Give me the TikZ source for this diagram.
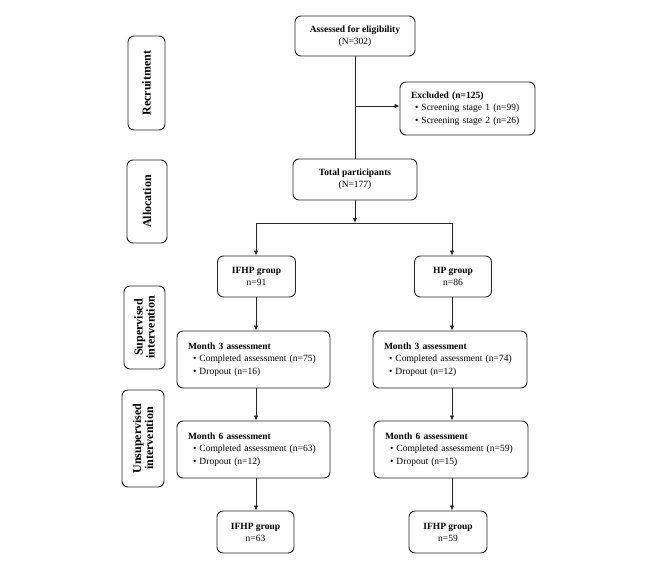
\documentclass[tikz,border=0pt]{standalone}
\usepackage{fontspec}
\setmainfont{Liberation Serif}
\usetikzlibrary{arrows.meta}
\begin{document}
\begin{tikzpicture}[x=1pt,y=1pt,
  box/.style={draw=black!85, line width=0.9pt, rounded corners=6pt, inner sep=0pt, align=center, font=\fontsize{9.5}{12}\selectfont},
  lbox/.style={draw=black!85, line width=0.9pt, rounded corners=6pt, inner xsep=11pt, inner ysep=0pt, align=left, font=\fontsize{9.5}{12.5}\selectfont},
  side/.style={draw=black!85, line width=0.9pt, rounded corners=6pt, inner sep=0pt, rotate=90, align=center, font=\fontsize{12}{12}\selectfont\bfseries},
  arr/.style={line width=0.8pt, draw=black!85, -{Latex[length=5pt,width=4.5pt]}},
  ln/.style={line width=0.8pt, draw=black!85}
]
\useasboundingbox (0,0) rectangle (666,-578);
% side labels
\node[side, minimum width=94, minimum height=37] (rec) at (146.5,-83) {Recruitment};
\node[side, minimum width=83, minimum height=40] (alloc) at (147,-201.5) {Allocation};
\node[side, minimum width=83, minimum height=41] (sup) at (144.5,-327.5) {Supervised\\intervention};
\node[side, minimum width=97, minimum height=42] (unsup) at (143,-438.5) {Unsupervised\\intervention};
% main boxes
\node[box, minimum width=120, minimum height=40] (assess) at (355,-36) {\textbf{Assessed for eligibility}\\(N=302)};
\node[lbox, minimum height=53, text width=113] (excl) at (467.5,-108.5) {\textbf{Excluded (n=125)}\\\hspace*{4pt}• Screening stage 1 (n=99)\\\hspace*{4pt}• Screening stage 2 (n=26)};
\node[box, minimum width=124, minimum height=41] (total) at (355,-179.5) {\textbf{Total participants}\\(N=177)};
\node[box, minimum width=78, minimum height=41] (ifhp) at (256.5,-276.5) {\textbf{IFHP group}\\n=91};
\node[box, minimum width=77, minimum height=41] (hp) at (453,-276.5) {\textbf{HP group}\\n=86};
\node[lbox, minimum height=57, text width=131] (m3l) at (253.5,-359.5) {\textbf{Month 3 assessment}\\\hspace*{5pt}• Completed assessment (n=75)\\\hspace*{5pt}• Dropout (n=16)};
\node[lbox, minimum height=57, text width=132] (m3r) at (450,-359.5) {\textbf{Month 3 assessment}\\\hspace*{5pt}• Completed assessment (n=74)\\\hspace*{5pt}• Dropout (n=12)};
\node[lbox, minimum height=57, text width=131] (m6l) at (253.5,-449.5) {\textbf{Month 6 assessment}\\\hspace*{5pt}• Completed assessment (n=63)\\\hspace*{5pt}• Dropout (n=12)};
\node[lbox, minimum height=57, text width=132] (m6r) at (451,-449.5) {\textbf{Month 6 assessment}\\\hspace*{5pt}• Completed assessment (n=59)\\\hspace*{5pt}• Dropout (n=15)};
\node[box, minimum width=77, minimum height=42] (fl) at (255.5,-532) {\textbf{IFHP group}\\n=63};
\node[box, minimum width=78, minimum height=42] (fr) at (448,-532) {\textbf{IFHP group}\\n=59};
% connectors
\coordinate (ex) at (355,-106);
\coordinate (j) at (355,-223);
\coordinate (jl) at (256,-223);
\coordinate (jr) at (452,-223);
\draw[ln] (assess.south) -- (total.north);
\draw[arr] (ex) -- (excl.west |- ex);
\draw[arr] (total.south) -- (j);
\draw[ln] (jl) -- (jr);
\draw[arr] (jl) -- (jl |- ifhp.north);
\draw[arr] (jr) -- (jr |- hp.north);
\draw[arr] (ifhp.south -| jl) -- (jl |- m3l.north);
\draw[arr] (hp.south -| jr) -- (jr |- m3r.north);
\draw[arr] (m3l.south -| jl) -- (jl |- m6l.north);
\draw[arr] (m3r.south -| jr) -- (jr |- m6r.north);
\draw[arr] (m6l.south -| jl) -- (jl |- fl.north);
\draw[arr] (m6r.south -| jr) -- (jr |- fr.north);
\end{tikzpicture}
\end{document}
